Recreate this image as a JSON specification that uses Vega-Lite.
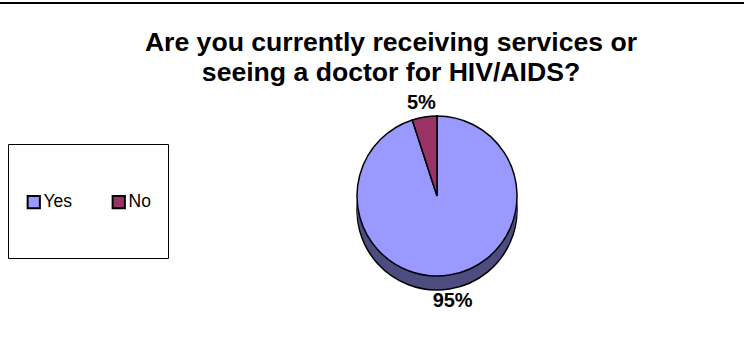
{
  "$schema": "https://vega.github.io/schema/vega-lite/v6.json",
  "width": 748,
  "height": 360,
  "autosize": {"type": "none"},
  "padding": {"left": -2, "top": 3, "right": 0, "bottom": 0},
  "background": "white",
  "view": {"stroke": "black", "strokeWidth": 2, "fill": "white"},
  "title": {
    "text": ["Are you currently receiving services or", "seeing a doctor for HIV/AIDS?"],
    "font": "Liberation Sans",
    "fontSize": 26.6,
    "fontWeight": "bold",
    "color": "black",
    "anchor": "middle",
    "frame": "group",
    "offset": -45,
    "baseline": "alphabetic",
    "lineHeight": 30,
    "dx": 19,
    "dy": 60
  },
  "data": {
    "values": [
      {"answer": "Yes", "share": 0.95},
      {"answer": "No", "share": 0.05}
    ]
  },
  "encoding": {
    "theta": {"field": "share", "type": "quantitative", "stack": true},
    "order": {"field": "answer", "sort": "descending"}
  },
  "layer": [
    {"mark": {"type": "arc", "radius": 80, "xOffset": 65, "yOffset": 27, "fill": "#4D4D80", "stroke": "black", "strokeWidth": 1.5}},
    {"mark": {"type": "arc", "radius": 80, "xOffset": 65, "yOffset": 24, "fill": "#4D4D80"}},
    {"mark": {"type": "arc", "radius": 80, "xOffset": 65, "yOffset": 21, "fill": "#4D4D80"}},
    {"mark": {"type": "arc", "radius": 80, "xOffset": 65, "yOffset": 18, "fill": "#4D4D80"}},
    {"mark": {"type": "arc", "radius": 80, "xOffset": 65, "yOffset": 15, "fill": "#4D4D80"}},
    {
      "mark": {"type": "arc", "radius": 80, "xOffset": 65, "yOffset": 13, "stroke": "black", "strokeWidth": 1.5, "opacity": 1},
      "encoding": {
        "color": {
          "field": "answer",
          "type": "nominal",
          "scale": {"domain": ["Yes", "No"], "range": ["#9999FF", "#993366"]},
          "legend": {
            "orient": "none",
            "legendX": 10,
            "legendY": 141,
            "direction": "horizontal",
            "title": " ",
            "titleFontSize": 20,
            "titlePadding": 12,
            "symbolType": "square",
            "symbolSize": 150,
            "symbolStrokeColor": "black",
            "symbolStrokeWidth": 2,
            "symbolOpacity": 1,
            "labelFont": "Liberation Sans",
            "labelFontSize": 17.5,
            "labelColor": "black",
            "labelBaseline": "middle",
            "labelOffset": 1,
            "columnPadding": 35,
            "padding": 17,
            "strokeColor": "black",
            "fillColor": "white",
            "labelExpr": "[datum.label, '']",
            "encode": {"labels": {"update": {"lineHeight": {"value": 30}}}}
          }
        }
      }
    },
    {
      "mark": {"type": "text", "radius": 100, "xOffset": 65, "yOffset": 19, "font": "Liberation Sans", "fontSize": 20, "fontWeight": "bold", "fill": "black"},
      "encoding": {"text": {"field": "share", "type": "quantitative", "format": ".0%"}}
    }
  ]
}
